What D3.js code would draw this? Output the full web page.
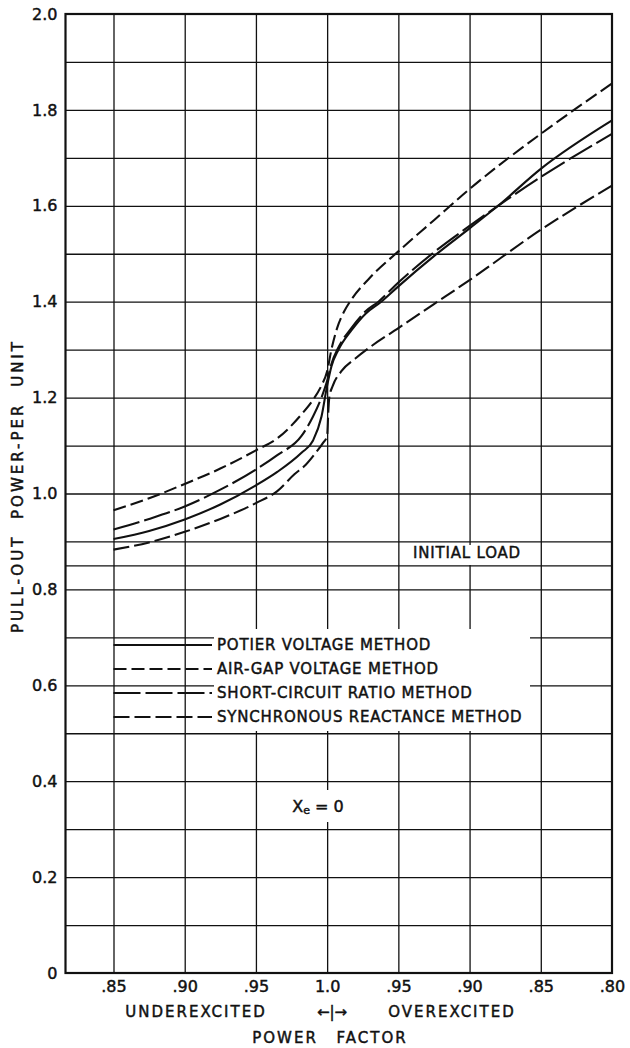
<!DOCTYPE html>
<html><head><meta charset="utf-8">
<script src="https://cdn.jsdelivr.net/npm/d3@7"></script>
<style>
body{margin:0;background:#fff;}
svg text{font-family:"DejaVu Sans",sans-serif;fill:#111;stroke:#111;stroke-width:0.45px;}
</style></head><body>
<svg id="chart" width="630" height="1048"></svg>
<script>
// Power-factor position: negative = underexcited (leading), positive = overexcited (lagging)
const xTickValues = [-0.15, -0.10, -0.05, 0, 0.05, 0.10, 0.15, 0.20];
const xTickLabels = [".85", ".90", ".95", "1.0", ".95", ".90", ".85", ".80"];
const yTickValues = [0, 0.2, 0.4, 0.6, 0.8, 1.0, 1.2, 1.4, 1.6, 1.8, 2.0];
const yTickLabels = ["0", "0.2", "0.4", "0.6", "0.8", "1.0", "1.2", "1.4", "1.6", "1.8", "2.0"];
const yGridValues = [0.1, 0.2, 0.3, 0.4, 0.5, 0.6, 0.7, 0.8, 0.9, 1.0, 1.1, 1.2, 1.3, 1.4, 1.5, 1.6, 1.7, 1.8, 1.9];
const initialLoad = 0.85;
const seriesNames = ["POTIER VOLTAGE METHOD", "AIR-GAP VOLTAGE METHOD", "SHORT-CIRCUIT RATIO METHOD", "SYNCHRONOUS REACTANCE METHOD"];

const potierPoints = [[-0.15,0.905],[-0.125,0.922],[-0.1,0.946],[-0.075,0.977],[-0.05,1.017],[-0.035,1.045],[-0.018,1.085],[-0.01,1.11],[-0.004,1.16],[0,1.225],[0.003,1.265],[0.008,1.30],[0.017,1.34],[0.027,1.375],[0.038,1.40],[0.05,1.432],[0.075,1.495],[0.1,1.553],[0.12,1.60],[0.15,1.677],[0.2,1.778]];
const airGapPoints = [[-0.15,0.965],[-0.125,0.99],[-0.1,1.02],[-0.075,1.052],[-0.05,1.09],[-0.035,1.115],[-0.018,1.165],[-0.01,1.195],[-0.004,1.225],[0,1.255],[0.003,1.30],[0.007,1.345],[0.012,1.38],[0.016,1.40],[0.03,1.45],[0.05,1.505],[0.075,1.57],[0.1,1.635],[0.15,1.75],[0.2,1.855]];
const shortCircuitPoints = [[-0.15,0.925],[-0.125,0.947],[-0.1,0.973],[-0.075,1.008],[-0.05,1.05],[-0.035,1.08],[-0.018,1.12],[-0.01,1.16],[-0.004,1.2],[0,1.235],[0.003,1.27],[0.008,1.305],[0.017,1.345],[0.027,1.38],[0.036,1.40],[0.05,1.44],[0.075,1.503],[0.1,1.558],[0.12,1.60],[0.15,1.66],[0.2,1.75]];
const synchronousPoints = [[-0.15,0.883],[-0.125,0.898],[-0.1,0.92],[-0.075,0.947],[-0.05,0.98],[-0.035,1.005],[-0.023,1.04],[-0.015,1.06],[-0.008,1.085],[-0.003,1.105],[0,1.12],[0.0008,1.17],[0.0015,1.2],[0.004,1.225],[0.01,1.255],[0.02,1.282],[0.03,1.305],[0.05,1.345],[0.075,1.395],[0.1,1.445],[0.15,1.55],[0.2,1.642]];

const seriesPoints = [potierPoints, airGapPoints, shortCircuitPoints, synchronousPoints];
const seriesDash = [null, "13,5", "27,5", "16,5"];

const L = 65.5, R = 612, T = 14, B = 973;
const x = d3.scaleLinear().domain([-0.1837, 0.2]).range([L, R]);
const y = d3.scaleLinear().domain([0, 2]).range([B, T]);
const svg = d3.select("#chart");
svg.append("rect").attr("width", 630).attr("height", 1048).attr("fill", "#fff");

// grid
svg.append("g").attr("transform", `translate(${L},0)`)
  .call(d3.axisLeft(y).tickValues(yGridValues.concat([initialLoad])).tickSize(-(R - L)).tickFormat(""))
  .call(g => g.select(".domain").remove())
  .call(g => g.selectAll("line").attr("stroke", "#111").attr("stroke-width", 1.3));
svg.append("g").attr("transform", `translate(0,${B})`)
  .call(d3.axisBottom(x).tickValues(xTickValues.slice(0, -1)).tickSize(-(B - T)).tickFormat(""))
  .call(g => g.select(".domain").remove())
  .call(g => g.selectAll("line").attr("stroke", "#111").attr("stroke-width", 1.3));

// masks behind annotations
svg.append("rect").attr("x", 214).attr("y", 629).attr("width", 316).attr("height", 102).attr("fill", "#fff");
svg.append("rect").attr("x", 403).attr("y", 545).attr("width", 130).attr("height", 20).attr("fill", "#fff");
svg.append("rect").attr("x", 292).attr("y", 790).attr("width", 54).attr("height", 32).attr("fill", "#fff");

// frame
svg.append("rect").attr("x", L).attr("y", T).attr("width", R - L).attr("height", B - T)
  .attr("fill", "none").attr("stroke", "#111").attr("stroke-width", 2.2);

// tick labels
svg.append("g").attr("transform", `translate(${L},0)`)
  .call(d3.axisLeft(y).tickValues(yTickValues).tickSize(0).tickPadding(8).tickFormat((d, i) => yTickLabels[i]))
  .call(g => g.select(".domain").remove())
  .call(g => g.selectAll("text").attr("font-size", 16).attr("fill", "#111").attr("font-family", "DejaVu Sans"));
svg.append("g").attr("transform", `translate(0,${B})`)
  .call(d3.axisBottom(x).tickValues(xTickValues).tickSize(0).tickPadding(8).tickFormat((d, i) => xTickLabels[i]))
  .call(g => g.select(".domain").remove())
  .call(g => g.selectAll("text").attr("font-size", 16).attr("fill", "#111").attr("font-family", "DejaVu Sans"));

// curves
const line = d3.line().x(d => x(d[0])).y(d => y(d[1])).curve(d3.curveMonotoneX);
seriesPoints.forEach((pts, i) => {
  svg.append("path").attr("d", line(pts)).attr("fill", "none").attr("stroke", "#111")
    .attr("stroke-width", 2.1).attr("stroke-dasharray", seriesDash[i]);
});

// legend
const legendY = [645, 669, 693, 717];
seriesNames.forEach((name, i) => {
  svg.append("line").attr("x1", x(-0.15)).attr("x2", 212).attr("y1", legendY[i]).attr("y2", legendY[i])
    .attr("stroke", "#111").attr("stroke-width", 2.1).attr("stroke-dasharray", seriesDash[i]);
  svg.append("text").attr("x", 217).attr("y", legendY[i]).attr("dominant-baseline", "central")
    .attr("font-size", 15).attr("letter-spacing", 0.8).text(name);
});

// annotations
svg.append("text").attr("x", 467).attr("y", (y(0.9) + y(initialLoad)) / 2).attr("text-anchor", "middle")
  .attr("dominant-baseline", "central").attr("font-size", 15).attr("letter-spacing", 0.8).text("INITIAL LOAD");
const xe = svg.append("text").attr("x", 318).attr("y", 806).attr("text-anchor", "middle")
  .attr("dominant-baseline", "central").attr("font-size", 16);
xe.append("tspan").text("X");
xe.append("tspan").attr("font-size", 11).attr("dy", 4).text("e");
xe.append("tspan").attr("dy", -4).text(" = 0");

svg.append("text").attr("transform", "translate(18,486) rotate(-90)").attr("text-anchor", "middle")
  .attr("dominant-baseline", "central").attr("font-size", 15).attr("letter-spacing", 3).attr("word-spacing", 8)
  .text("PULL-OUT POWER-PER UNIT");
svg.append("text").attr("x", 196).attr("y", 1012).attr("text-anchor", "middle").attr("dominant-baseline", "central")
  .attr("font-size", 15).attr("letter-spacing", 2).text("UNDEREXCITED");
svg.append("text").attr("x", 332).attr("y", 1012).attr("text-anchor", "middle").attr("dominant-baseline", "central")
  .attr("font-size", 15).text("←|→");
svg.append("text").attr("x", 452).attr("y", 1012).attr("text-anchor", "middle").attr("dominant-baseline", "central")
  .attr("font-size", 15).attr("letter-spacing", 2).text("OVEREXCITED");
svg.append("text").attr("x", 330).attr("y", 1038).attr("text-anchor", "middle").attr("dominant-baseline", "central")
  .attr("font-size", 15).attr("letter-spacing", 2).attr("word-spacing", 12).text("POWER FACTOR");
</script>
</body></html>
